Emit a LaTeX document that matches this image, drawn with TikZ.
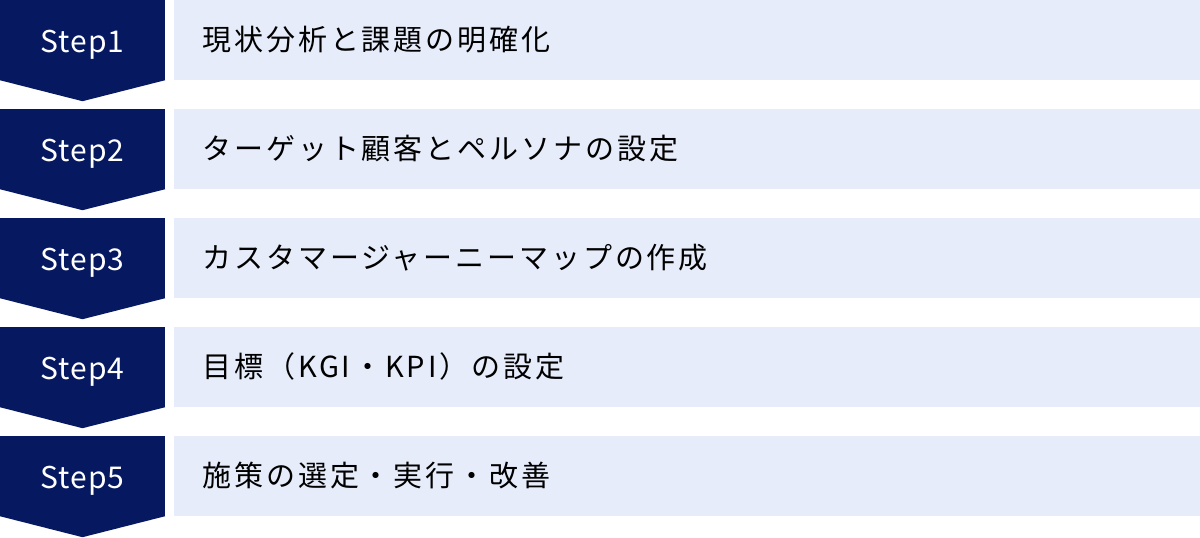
\documentclass[tikz,border=0pt]{standalone}
\usepackage{fontspec}
\setmainfont{Noto Sans CJK JP}
\newfontfamily\stepfont[LetterSpace=3]{Noto Sans CJK JP}
\newfontfamily\taskfont[LetterSpace=10]{Noto Sans CJK JP}
\usetikzlibrary{positioning}
\definecolor{stepnavy}{RGB}{5,24,96}
\definecolor{taskblue}{RGB}{230,236,250}
\tikzstyle{stepbox} = [rectangle, fill=stepnavy, text=white, minimum width=165pt, minimum height=80pt, inner sep=0pt, text height=30pt, text depth=6pt, font=\stepfont\fontsize{30}{36}\selectfont, node distance=109pt]
\tikzstyle{task} = [rectangle, fill=taskblue, minimum width=1026pt, minimum height=80pt, text width=970pt, inner xsep=28pt, inner ysep=0pt, text height=25pt, text depth=4pt, align=left, font=\taskfont\fontsize{29}{35}\selectfont]
\tikzstyle{tip} = [fill=stepnavy]

\begin{document}
\begin{tikzpicture}
	\useasboundingbox (0,0) rectangle (1200pt,-538pt);
	\node [stepbox] (step1) at (82.5pt,-40pt) {Step1};
	\node [stepbox, below of=step1] (step2) {Step2};
	\node [stepbox, below of=step2] (step3) {Step3};
	\node [stepbox, below of=step3] (step4) {Step4};
	\node [stepbox, below of=step4] (step5) {Step5};

	\node [task, right=9pt of step1] (task1) {現状分析と課題の明確化};
	\node [task, right=9pt of step2] (task2) {ターゲット顧客とペルソナの設定};
	\node [task, right=9pt of step3] (task3) {カスタマージャーニーマップの作成};
	\node [task, right=9pt of step4] (task4) {目標（KGI・KPI）の設定};
	\node [task, right=9pt of step5] (task5) {施策の選定・実行・改善};

	\foreach \s in {1,...,5}
		\fill [tip] (step\s.south west) -- (step\s.south east) -- ([yshift=-21pt]step\s.south) -- cycle;
\end{tikzpicture}
\end{document}
